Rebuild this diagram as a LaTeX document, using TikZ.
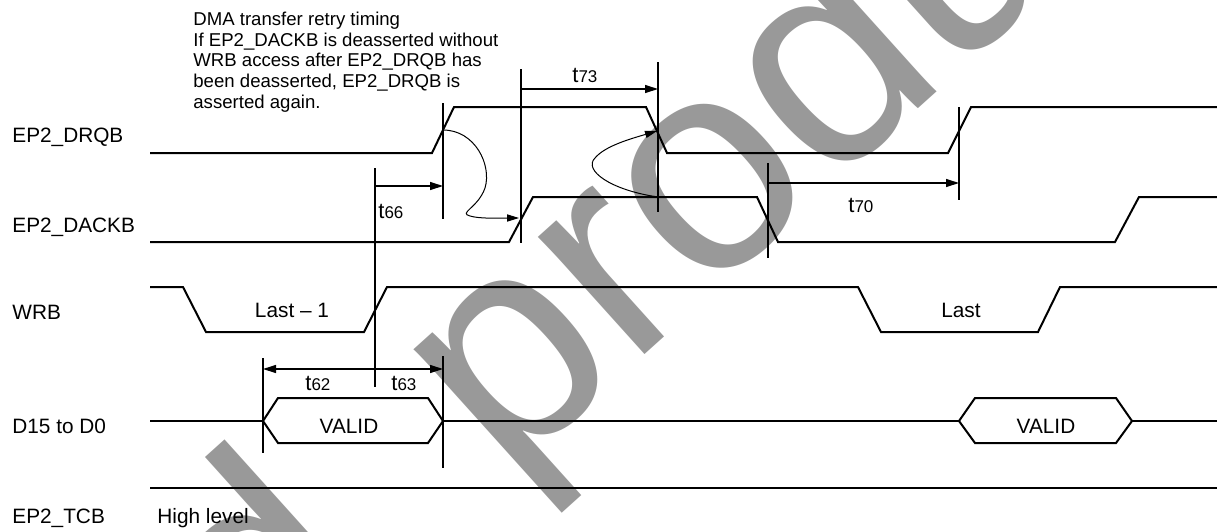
\documentclass[tikz,border=0pt]{standalone}
\usepackage{fontspec}
\setmainfont{Liberation Sans}
\usetikzlibrary{arrows.meta}
\definecolor{wmgray}{HTML}{999999}
\newcommand{\sigfont}{\fontsize{10.4}{12}\selectfont}
\newcommand{\notefont}{\fontsize{9.3}{10.4}\selectfont}
\newcommand{\tsym}[1]{{\fontsize{11}{11}\selectfont t}{\fontsize{8.5}{8.5}\selectfont #1}}

\begin{document}
\begin{tikzpicture}[x=0.5pt,y=-0.5pt,>={Triangle[length=6.5pt,width=4pt]},
	wave/.style={line width=1pt},
	marker/.style={line width=0.6pt},
	dim/.style={line width=0.6pt},
	hint/.style={line width=0.5pt,->,>={Triangle[length=6pt,width=3.6pt]}},
	sig/.style={anchor=base west,inner sep=0pt,font=\sigfont},
	tlab/.style={anchor=base west,inner sep=0pt}]
	\useasboundingbox (0,0) rectangle (1217,531);

	% watermark
	% ---------
	\node[rotate=42,anchor=base east,inner sep=0pt,text=wmgray,
		  font=\fontsize{150}{160}\selectfont] (wmark) at (1250,-190)
		  {Discontinued\hspace{0.26em} product};

	% signal names
	% ------------
	\node[sig] (nDRQB)  at (12,142) {EP2\_DRQB};
	\node[sig] (nDACKB) at (12,232) {EP2\_DACKB};
	\node[sig] (nWRB)   at (12,319) {WRB};
	\node[sig] (nData)  at (12,433) {D15 to D0};
	\node[sig] (nTCB)   at (12,523) {EP2\_TCB};
	\node[sig] (nHigh)  at (157,523) {High level};

	\node[anchor=north west,inner sep=0pt,align=left,font=\notefont] (note) at (193,11.5)
		{DMA transfer retry timing\\
		 If EP2\_DACKB is deasserted without\\
		 WRB access after EP2\_DRQB has\\
		 been deasserted, EP2\_DRQB is\\
		 asserted again.};

	% waveforms
	% ---------
	\draw[wave] (150,153) -- (432,153) -- (454,107) -- (646,107) -- (667,153)
		-- (948,153) -- (971,107) -- (1217,107);
	\draw[wave] (150,242) -- (509,242) -- (533,197) -- (757,197) -- (778,242)
		-- (1115,242) -- (1139,197) -- (1217,197);
	\draw[wave] (150,287) -- (183,287) -- (206,332) -- (364,332) -- (387,287)
		-- (858,287) -- (881,332) -- (1038,332) -- (1060,287) -- (1217,287);
	\draw[wave] (150,421) -- (263,421);
	\draw[wave] (263,421) -- (278,398) -- (428,398) -- (443,421) -- (428,443) -- (278,443) -- cycle;
	\draw[wave] (443,421) -- (959,421);
	\draw[wave] (959,421) -- (975,398) -- (1116,398) -- (1132,421) -- (1116,443) -- (975,443) -- cycle;
	\draw[wave] (1132,421) -- (1217,421);
	\draw[wave] (150,488) -- (1217,488);

	\node[sig,anchor=base] (wLast1) at (292,317) {Last -- 1};
	\node[sig,anchor=base] (wLast)  at (961,317) {Last};
	\node[sig,anchor=base] (dValA)  at (349,433) {VALID};
	\node[sig,anchor=base] (dValB)  at (1046,433) {VALID};

	% reference lines
	% ---------------
	\coordinate (m66a) at (375,186);
	\coordinate (m66b) at (443,186);
	\coordinate (m73a) at (521,89);
	\coordinate (m73b) at (658,89);
	\coordinate (m70a) at (768,183);
	\coordinate (m70b) at (959,183);
	\coordinate (m62a) at (263,369);
	\coordinate (m63b) at (443,369);

	\draw[marker] (443,103) -- (443,219);
	\draw[marker] (375,168) -- (375,387);
	\draw[marker] (521,69) -- (521,243);
	\draw[marker] (658,62) -- (658,212);
	\draw[marker] (768,163) -- (768,258);
	\draw[marker] (959,107) -- (959,200);
	\draw[marker] (263,358) -- (263,453);
	\draw[marker] (443,356) -- (443,468);

	% timing arrows
	% -------------
	\draw[dim,->] (m66a) -- (m66b);
	\draw[dim,->] (m73a) -- (m73b);
	\draw[dim,->] (m70a) -- (m70b);
	\draw[dim,<->] (m62a) -- (m63b);

	\node[tlab] (t66) at (378,218) {\tsym{66}};
	\node[tlab] (t73) at (572,82) {\tsym{73}};
	\node[tlab] (t70) at (848,212) {\tsym{70}};
	\node[tlab] (t62) at (305,390) {\tsym{62}};
	\node[tlab] (t63) at (391,390) {\tsym{63}};

	% retry hints
	% -----------
	\coordinate (drqbUp)   at (443,130);
	\coordinate (dackbUp)  at (519,218);
	\coordinate (dackbTop) at (658,197);
	\coordinate (drqbDown) at (657,131);
	\draw[hint] (drqbUp) .. controls (475,130) and (492,165) .. (485,188)
		.. controls (478,208) and (458,213) .. (470,216)
		.. controls (480,219) and (500,218) .. (dackbUp);
	\draw[hint] (dackbTop) .. controls (610,190) and (583,170) .. (595,158)
		.. controls (605,146) and (630,139) .. (drqbDown);
\end{tikzpicture}
\end{document}
